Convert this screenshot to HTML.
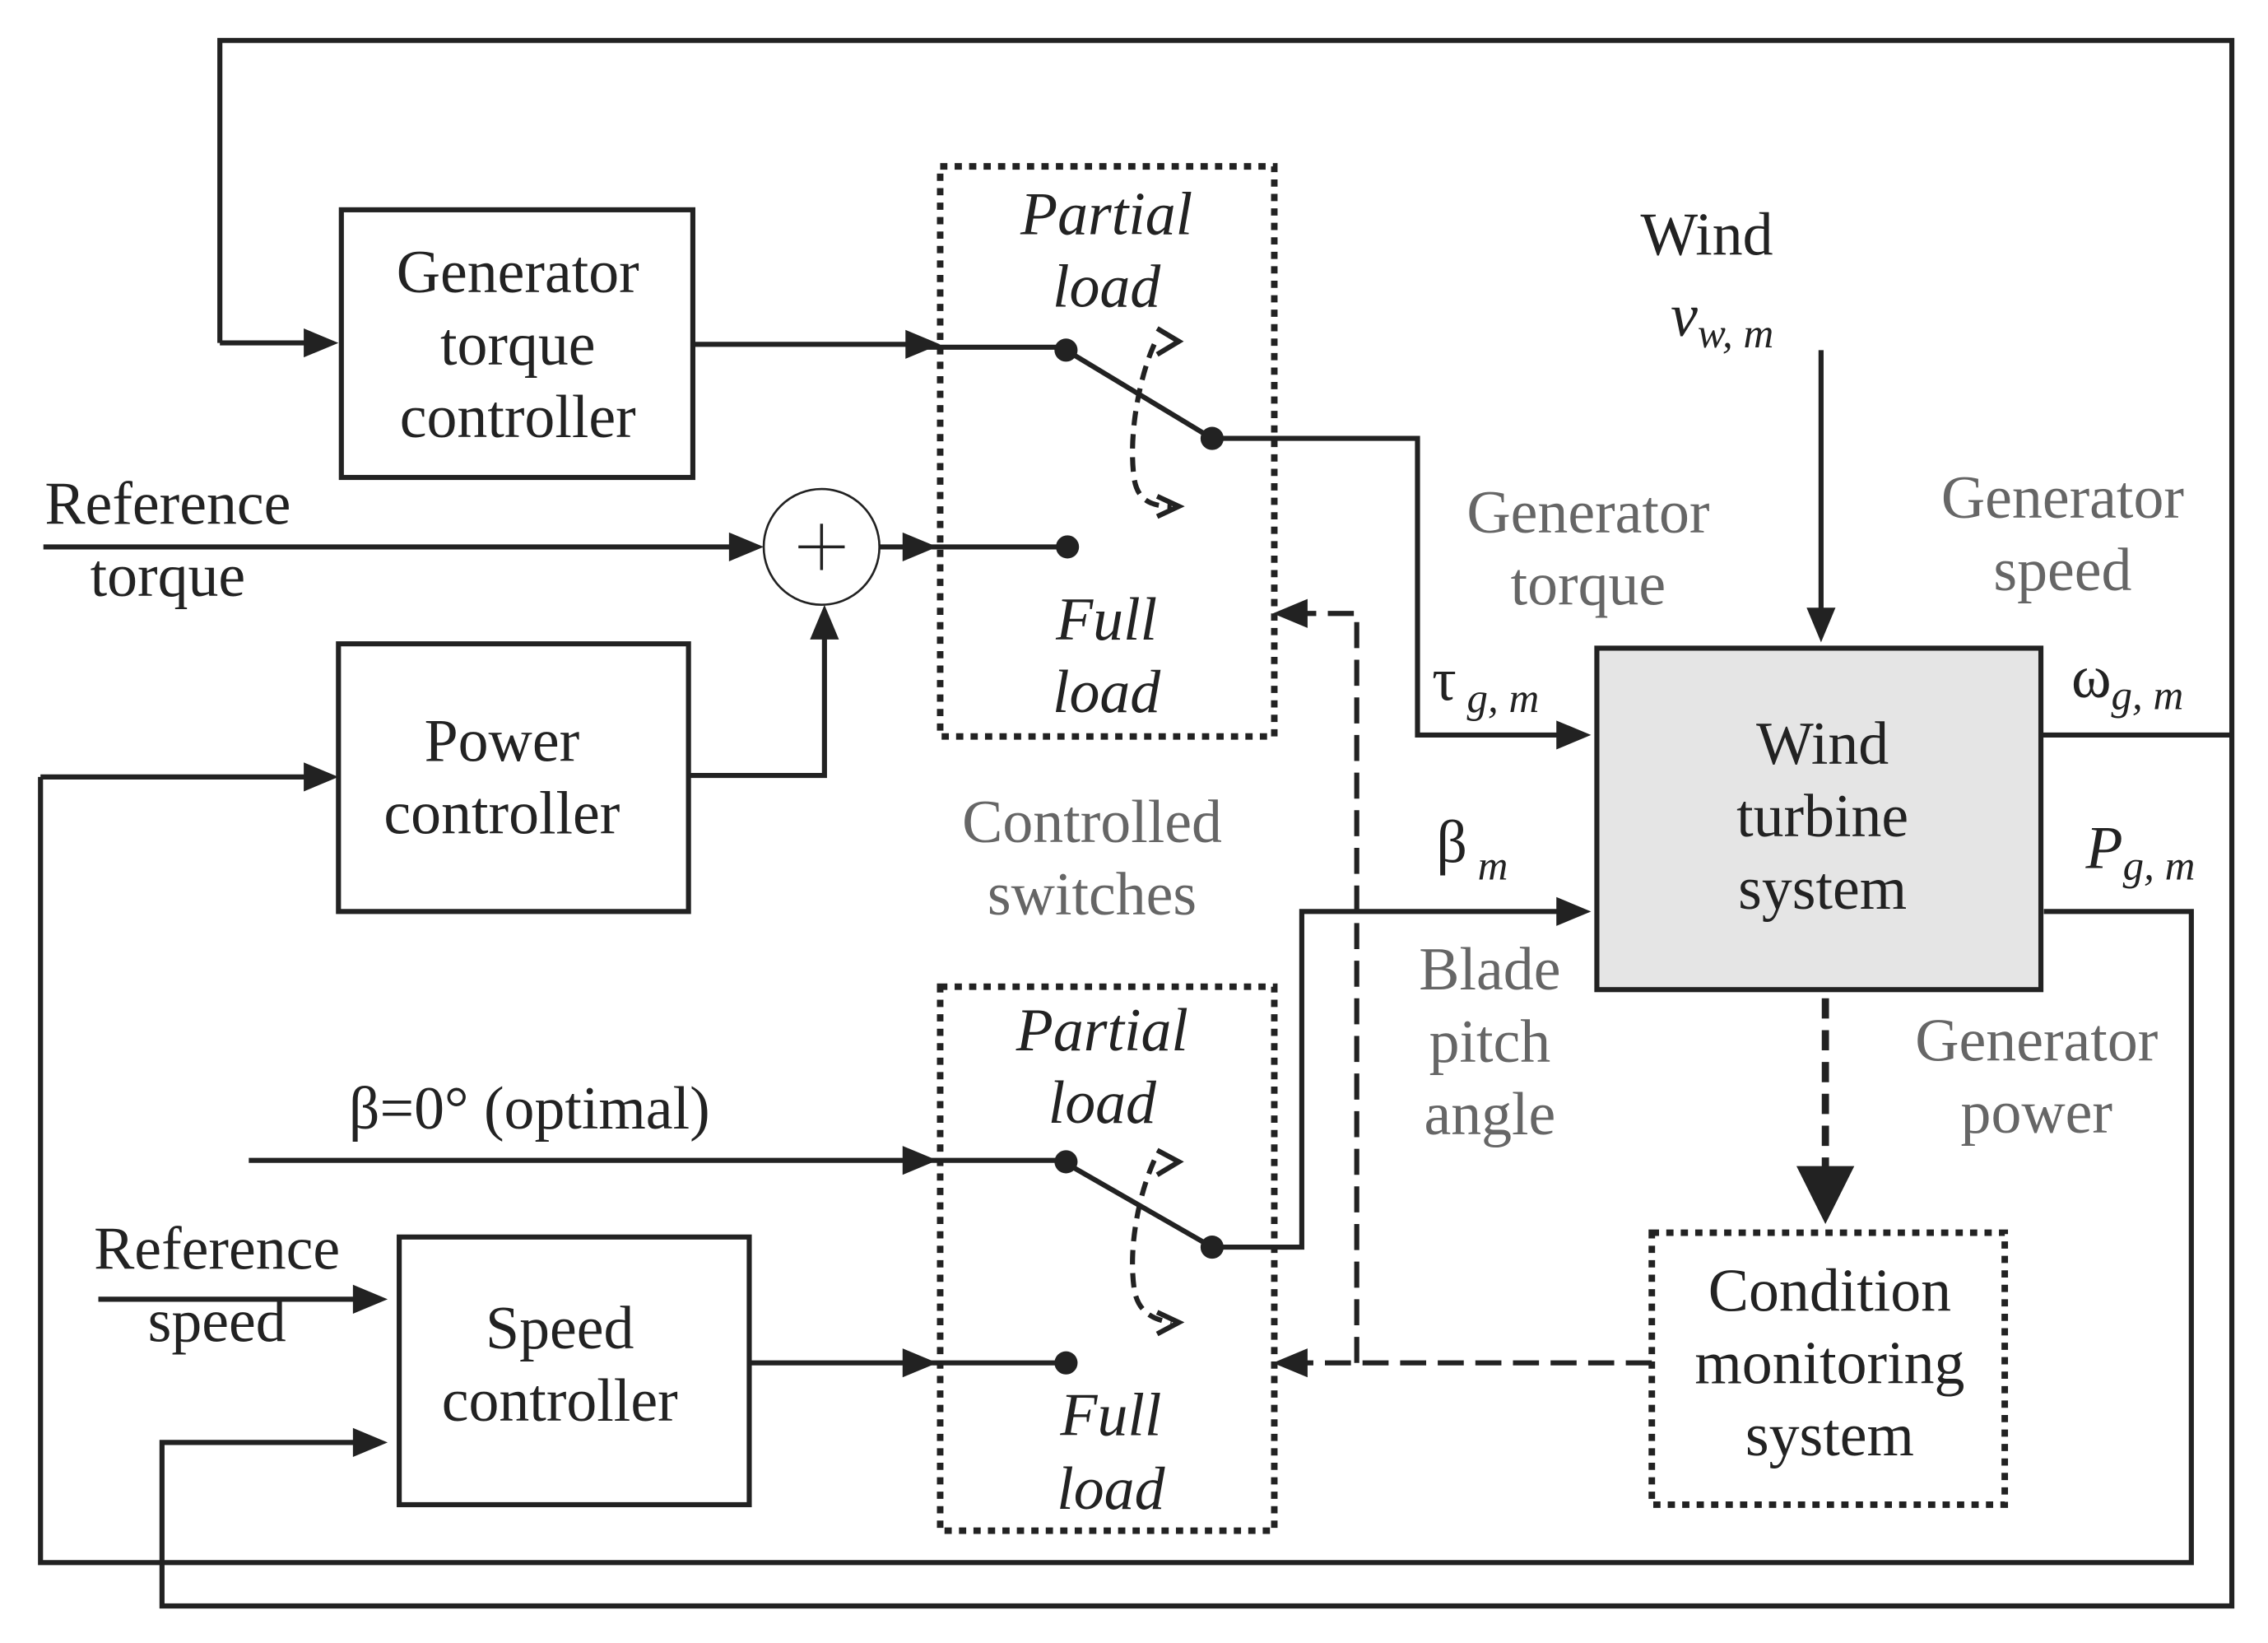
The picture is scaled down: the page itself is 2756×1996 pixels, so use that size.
<!DOCTYPE html>
<html><head><meta charset="utf-8"><style>html,body{margin:0;padding:0;background:#fff}svg{display:block}</style></head>
<body>
<svg width="2756" height="1996" viewBox="0 0 1568 1135.6" xmlns="http://www.w3.org/2000/svg" style="font-family:'Liberation Serif','Times New Roman',serif" font-size="42">
<rect width="1568" height="1136" fill="#fff"/>
<g stroke="#222" stroke-width="3.5" fill="none">
<polyline points="152,237 152,28 1543,28 1543,1110 112,1110 112,997 250,997"/>
<polyline points="28,537 28,1080 1515,1080 1515,630 1413,630"/>
<line x1="28" y1="537" x2="215" y2="537"/>
<line x1="152" y1="237" x2="215" y2="237"/>
<rect x="236" y="145" width="243" height="185"/>
<rect x="234" y="445" width="242" height="185"/>
<rect x="276" y="855" width="242" height="185"/>
<rect x="1104" y="448" width="307" height="236" fill="#e5e5e5"/>
<circle cx="568" cy="378" r="40" stroke-width="1.5"/>
<line x1="479" y1="238" x2="630" y2="238"/>
<line x1="630" y1="240" x2="737" y2="240"/>
<line x1="737" y1="242" x2="838" y2="303"/>
<polyline points="838,303 980,303 980,508 1080,508"/>
<line x1="30" y1="378" x2="508" y2="378"/>
<line x1="608" y1="378" x2="630" y2="378"/>
<line x1="630" y1="378" x2="737" y2="378"/>
<polyline points="476,536 570,536 570,440"/>
<line x1="1411" y1="508" x2="1543" y2="508"/>
<line x1="1259" y1="242" x2="1259" y2="425"/>
<line x1="172" y1="802" x2="630" y2="802"/>
<line x1="630" y1="802" x2="737" y2="802"/>
<line x1="737" y1="804" x2="838" y2="862"/>
<polyline points="838,862 900,862 900,630 1080,630"/>
<line x1="68" y1="898" x2="250" y2="898"/>
<line x1="518" y1="942" x2="630" y2="942"/>
<line x1="630" y1="942" x2="737" y2="942"/>
<g stroke-width="4.5" stroke-dasharray="5,5">
<rect x="650" y="115" width="231" height="394"/>
<rect x="650" y="682" width="231" height="376"/>
<rect x="1142" y="852" width="244" height="188"/>
</g>
<line x1="1142" y1="942" x2="900" y2="942" stroke-dasharray="18,8"/>
<polyline points="938,942 938,424 900,424" stroke-dasharray="18,8"/>
<line x1="1262" y1="690" x2="1262" y2="810" stroke-width="5" stroke-dasharray="14,8"/>
<path d="M798,238 C788,260 780,300 784,330 C786,345 795,350 810,350" stroke-dasharray="10,6"/>
<polyline points="800,227 815,236 800,245"/>
<polyline points="800,343 815,350 800,357"/>
<path d="M798,802 C788,824 780,860 784,890 C786,905 795,912 810,914" stroke-dasharray="10,6"/>
<polyline points="800,795 815,803 800,812"/>
<polyline points="800,907 815,914 800,922"/>
<line x1="552" y1="378" x2="584" y2="378" stroke-width="2"/>
<line x1="568" y1="362" x2="568" y2="394" stroke-width="2"/>
</g>
<g fill="#222">
<circle cx="737" cy="242" r="8"/><circle cx="838" cy="303" r="8"/><circle cx="738" cy="378" r="8"/>
<circle cx="737" cy="803" r="8"/><circle cx="838" cy="862" r="8"/><circle cx="737" cy="942" r="8"/>
<path d="M210,227 L234,237 L210,247z"/>
<path d="M210,527 L234,537 L210,547z"/>
<path d="M244,987 L268,997 L244,1007z"/>
<path d="M244,888 L268,898 L244,908z"/>
<path d="M626,228 L650,238 L626,248z"/>
<path d="M504,368 L528,378 L504,388z"/>
<path d="M624,368 L648,378 L624,388z"/>
<path d="M560,442 L570,418 L580,442z"/>
<path d="M1076,498 L1100,508 L1076,518z"/>
<path d="M1076,620 L1100,630 L1076,640z"/>
<path d="M1249,420 L1259,444 L1269,420z"/>
<path d="M1242,806 L1262,846 L1282,806z"/>
<path d="M624,792 L648,802 L624,812z"/>
<path d="M624,932 L648,942 L624,952z"/>
<path d="M904,932 L880,942 L904,952z"/>
<path d="M904,414 L880,424 L904,434z"/>
</g>
<g fill="#222" text-anchor="middle">
<text x="358" y="202">Generator</text><text x="358" y="252">torque</text><text x="358" y="302">controller</text>
<text x="347" y="526">Power</text><text x="347" y="576">controller</text>
<text x="387" y="932">Speed</text><text x="387" y="982">controller</text>
<text x="1260" y="528">Wind</text><text x="1260" y="578">turbine</text><text x="1260" y="628">system</text>
<text x="1265" y="906">Condition</text><text x="1265" y="956">monitoring</text><text x="1265" y="1006">system</text>
<text x="1180" y="176">Wind</text>
<g font-style="italic">
<text x="765" y="162">Partial</text><text x="765" y="212">load</text>
<text x="765" y="442">Full</text><text x="765" y="492">load</text>
<text x="762" y="726">Partial</text><text x="762" y="776">load</text>
<text x="768" y="992">Full</text><text x="768" y="1043">load</text>
</g>
<text x="116" y="362">Reference</text><text x="116" y="412">torque</text>
<text x="150" y="877">Reference</text><text x="150" y="927">speed</text>
<text x="366" y="780">β=0° (optimal)</text>
</g>
<g fill="#666" text-anchor="middle">
<text x="1098" y="368">Generator</text><text x="1098" y="418">torque</text>
<text x="1426" y="358">Generator</text><text x="1426" y="408">speed</text>
<text x="755" y="582">Controlled</text><text x="755" y="632">switches</text>
<text x="1030" y="684">Blade</text><text x="1030" y="734">pitch</text><text x="1030" y="784">angle</text>
<text x="1408" y="733">Generator</text><text x="1408" y="783">power</text>
</g>
<g fill="#222">
<text x="1155" y="232" font-style="italic">v<tspan font-size="29" dy="8">w, m</tspan></text>
<text x="990" y="484">τ<tspan font-size="29" dy="8" font-style="italic"> g, m</tspan></text>
<text x="993" y="596">β<tspan font-size="29" dy="12" font-style="italic"> m</tspan></text>
<text x="1432" y="482">ω<tspan font-size="29" dy="8" font-style="italic">g, m</tspan></text>
<text x="1442" y="600" font-style="italic">P<tspan font-size="29" dy="8">g, m</tspan></text>
</g>
</svg>
</body></html>
